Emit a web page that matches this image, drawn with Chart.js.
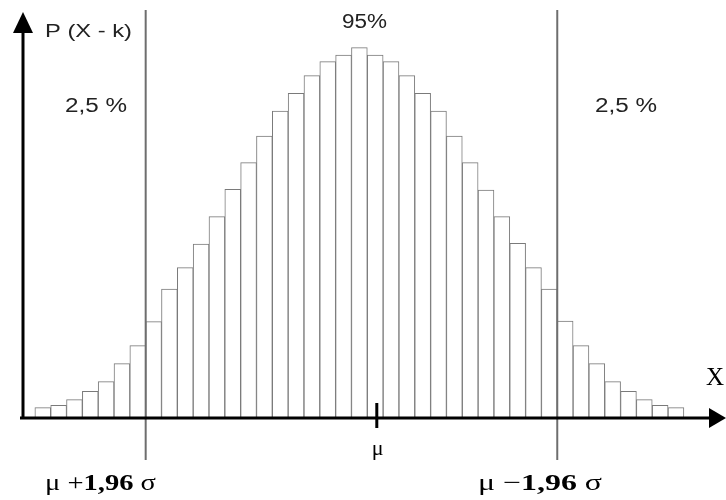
<!DOCTYPE html>
<html>
<head>
<meta charset="utf-8">
<script src="https://cdn.jsdelivr.net/npm/chart.js@4/dist/chart.umd.min.js"></script>
<style>
  body { margin: 0; background: #fff; }
  #wrap { width: 726px; height: 500px; position: relative; }
</style>
</head>
<body>
<div id="wrap"><canvas id="histo"></canvas></div>
<script>
// --- Data ---

// bin positions k (one bar per bin)
const bins = [0, 1, 2, 3, 4, 5, 6, 7, 8, 9, 10, 11, 12, 13, 14, 15, 16, 17, 18, 19, 20,
              21, 22, 23, 24, 25, 26, 27, 28, 29, 30, 31, 32, 33, 34, 35, 36, 37, 38, 39, 40];

// bar heights P(X = k), arbitrary units
const probs = [10.3, 12.7, 18.3, 26.7, 36.3, 54.3, 72.3, 96.3, 129, 150.3, 174, 201.3, 228.7,
               255.3, 282, 307, 324.7, 342.3, 356.3, 363, 370.3, 363, 356.3, 342.3, 324.7, 307,
               282, 255.3, 228, 201.3, 174.7, 150.3, 129, 97, 72.3, 54.3, 36.3, 26.7, 18.3, 12.7, 10.3];

// cut-off lines and mean, in bin units
const cutLeft = 6.5;
const cutRight = 32.5;
const muPos = 21.1;

// --- Helpers ---

// draw a run of text pieces, stretched horizontally to a given width
function drawStretched(ctx, pieces, x, y, width) {
    let total = 0;
    pieces.forEach(p => {
        ctx.font = p.font;
        total += ctx.measureText(p.text).width;
    });
    const sx = width ? width / total : 1;
    ctx.save();
    ctx.translate(x, y);
    ctx.scale(sx, 1);
    let cx = 0;
    pieces.forEach(p => {
        ctx.font = p.font;
        ctx.fillText(p.text, cx, 0);
        cx += ctx.measureText(p.text).width;
    });
    ctx.restore();
}

// axes with arrows, cut-off lines, mean tick and the labels
const decorations = {
    id: 'decorations',
    afterDatasetsDraw(chart) {
        const ctx = chart.ctx;
        const area = chart.chartArea;
        const xs = chart.scales.x;
        const base = area.bottom;

        ctx.save();

        // cut-off lines
        ctx.strokeStyle = '#6e6e6e';
        ctx.lineWidth = 2;
        [cutLeft, cutRight].forEach(v => {
            const px = xs.getPixelForValue(v);
            ctx.beginPath();
            ctx.moveTo(px, 10);
            ctx.lineTo(px, 460);
            ctx.stroke();
        });

        // axes
        ctx.strokeStyle = '#000';
        ctx.fillStyle = '#000';
        ctx.lineWidth = 3;
        ctx.beginPath();
        ctx.moveTo(20, base);
        ctx.lineTo(712, base);
        ctx.moveTo(area.left, base);
        ctx.lineTo(area.left, 30);
        ctx.stroke();

        ctx.beginPath();
        ctx.moveTo(726, base);
        ctx.lineTo(709, base - 10);
        ctx.lineTo(709, base + 10);
        ctx.closePath();
        ctx.fill();

        ctx.beginPath();
        ctx.moveTo(area.left, 12);
        ctx.lineTo(area.left - 10, 33);
        ctx.lineTo(area.left + 10, 33);
        ctx.closePath();
        ctx.fill();

        // mean tick
        const muX = xs.getPixelForValue(muPos);
        ctx.beginPath();
        ctx.moveTo(muX, base - 15);
        ctx.lineTo(muX, base + 10);
        ctx.stroke();

        // labels
        ctx.fillStyle = '#222';
        ctx.textBaseline = 'alphabetic';
        const sans = '"Liberation Sans", Arial, sans-serif';
        const serif = '"Liberation Serif", "Times New Roman", serif';

        drawStretched(ctx, [{ text: 'P (X - k)', font: '18px ' + sans }], 45, 37, 87);
        drawStretched(ctx, [{ text: '2,5 %', font: '20px ' + sans }], 65, 112, 62);
        drawStretched(ctx, [{ text: '2,5 %', font: '20px ' + sans }], 595, 112, 62);
        drawStretched(ctx, [{ text: '95%', font: '20px ' + sans }], 342, 28, 45);

        ctx.fillStyle = '#000';
        drawStretched(ctx, [{ text: 'X', font: '25px ' + serif }], 706, 385);
        drawStretched(ctx, [{ text: 'μ', font: '22px ' + serif }], muX - 5, 455);

        drawStretched(ctx, [
            { text: 'μ +', font: '23px ' + serif },
            { text: '1,96', font: 'bold 23px ' + serif },
            { text: ' σ', font: '23px ' + serif }
        ], 45, 490, 111);
        drawStretched(ctx, [
            { text: 'μ −', font: '23px ' + serif },
            { text: '1,96', font: 'bold 23px ' + serif },
            { text: ' σ', font: '23px ' + serif }
        ], 478, 490, 124);

        ctx.restore();
    }
};

// --- Chart ---
document.addEventListener('DOMContentLoaded', () => {
    const ctxHisto = document.getElementById('histo').getContext('2d');
    new Chart(ctxHisto, {
        type: 'bar',
        data: {
            datasets: [{
                data: bins.map((k, i) => ({ x: k, y: probs[i] })),
                backgroundColor: '#ffffff',
                borderColor: '#7a7a7a',
                borderWidth: 1,
                barPercentage: 1,
                categoryPercentage: 1
            }]
        },
        options: {
            responsive: true,
            maintainAspectRatio: false,
            animation: false,
            layout: { padding: { left: 23, right: 0, top: 10, bottom: 82 } },
            plugins: {
                legend: { display: false },
                tooltip: { enabled: false }
            },
            scales: {
                x: { type: 'linear', offset: false, min: -1.25, max: 43.16, display: false },
                y: { min: 0, max: 408, display: false }
            }
        },
        plugins: [decorations]
    });
});
</script>
</body>
</html>
